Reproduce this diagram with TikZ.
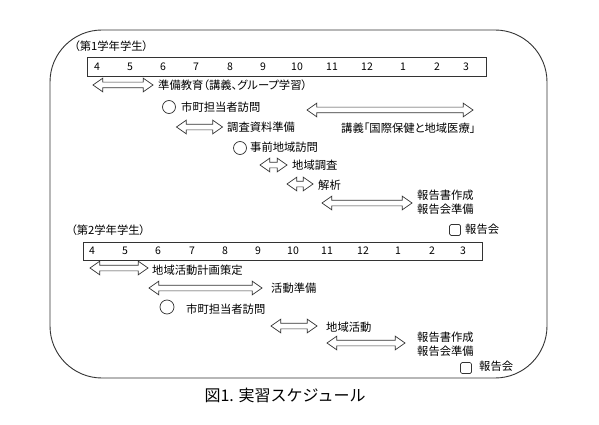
\documentclass[tikz,border=0pt]{standalone}
\usepackage{fontspec}
\setmainfont{Noto Sans CJK JP}
\newfontfamily\jpprop{Noto Sans CJK JP}[RawFeature=+palt]
\usetikzlibrary{shapes.arrows,shapes.geometric}
\definecolor{ink}{HTML}{333333}
\begin{document}
\begin{tikzpicture}[x=1pt,y=-1pt,
  lbl/.style={anchor=west,inner sep=0pt,font=\fontsize{11.3}{14}\selectfont,text=black},
  plbl/.style={lbl,font=\jpprop\fontsize{11.3}{14}\selectfont},
  month/.style={inner sep=0pt,font=\fontsize{10.5}{12}\selectfont,text=black},
  darr/.style={double arrow,draw=ink,line width=0.7pt,inner sep=0pt,minimum width=13pt,
    double arrow head extend=4pt,double arrow tip angle=70,double arrow head indent=0pt,minimum height=#1},
  barbox/.style={rectangle,draw=ink,line width=0.8pt,inner sep=0pt},
  ring/.style={circle,draw=ink,line width=0.7pt,inner sep=0pt,minimum size=13pt},
  sq/.style={rectangle,rounded corners=1.5pt,draw=ink,line width=0.7pt,inner sep=0pt,minimum size=11pt},
]
\fill[white] (0,0) rectangle (599,425);
\useasboundingbox (0,0) rectangle (599,425);

% frame
\node[rectangle,draw=ink,line width=0.9pt,rounded corners=52pt,minimum width=497pt,minimum height=348pt,inner sep=0pt] (frame) at (298.5,204) {};

% ---------- year 1 ----------
\node[plbl] (y1) at (74,46) {（第1学年学生）};
\node[barbox,minimum width=399pt,minimum height=19pt] (bar1) at (286.5,66.5) {};
\foreach \m/\x in {4/97,5/130,6/163,7/196,8/230,9/263,10/297,11/332,12/367,1/403,2/437,3/466}
  \node[month] (ma\m) at (\x,67) {\m};

\node[darr=60pt] (a1) at (123,85) {\rule{0pt}{5pt}};
\node[plbl] (l1) at (158,85) {準備教育（講義、グループ学習）};

\node[ring] (c1) at (169,107) {};
\node[lbl] (l2) at (181,107) {市町担当者訪問};

\node[darr=46pt] (a2) at (199.5,127) {\rule{0pt}{5pt}};
\node[lbl] (l3) at (227,127) {調査資料準備};

\node[darr=166pt] (a3) at (390,110) {\rule{0pt}{5pt}};
\node[plbl] (l4) at (341,128) {講義「国際保健と地域医療」};

\node[ring] (c2) at (240,148) {};
\node[lbl] (l5) at (250,147) {事前地域訪問};

\node[darr=27pt] (a4) at (273.5,165) {\rule{0pt}{5pt}};
\node[lbl] (l6) at (292,165) {地域調査};

\node[darr=26pt] (a5) at (300,184) {\rule{0pt}{5pt}};
\node[lbl] (l7) at (318,185) {解析};

\node[darr=90pt] (a6) at (367,203) {\rule{0pt}{5pt}};
\node[lbl,align=left] (l8) at (417,202) {報告書作成\\報告会準備};

\node[sq] (s1) at (455,230) {};
\node[lbl] (l9) at (465,229) {報告会};

% ---------- year 2 ----------
\node[plbl] (y2) at (71,230) {（第2学年学生）};
\node[barbox,minimum width=399pt,minimum height=18pt] (bar2) at (282.5,251) {};
\foreach \m/\x in {4/92,5/125,6/158,7/192,8/225,9/258,10/293,11/327,12/363,1/398,2/432,3/463}
  \node[month] (mb\m) at (\x,251) {\m};

\node[darr=58pt] (b1) at (119,268) {\rule{0pt}{5pt}};
\node[lbl] (k1) at (152,270) {地域活動計画策定};

\node[darr=113pt] (b2) at (205.5,288) {\rule{0pt}{5pt}};
\node[lbl] (k2) at (271,288) {活動準備};

\node[ring,minimum size=14pt] (c3) at (167,307) {};
\node[lbl] (k3) at (186,309) {市町担当者訪問};

\node[darr=46pt] (b3) at (294,326) {\rule{0pt}{5pt}};
\node[lbl] (k4) at (326,327) {地域活動};

\node[darr=78pt] (b4) at (366,343) {\rule{0pt}{5pt}};
\node[lbl,align=left] (k5) at (417,344) {報告書作成\\報告会準備};

\node[sq] (s2) at (466,368) {};
\node[lbl] (k6) at (479,366) {報告会};

% caption
\node[inner sep=0pt,font=\fontsize{16}{18}\selectfont] (cap) at (285,395) {図1. 実習スケジュール};
\end{tikzpicture}
\end{document}
